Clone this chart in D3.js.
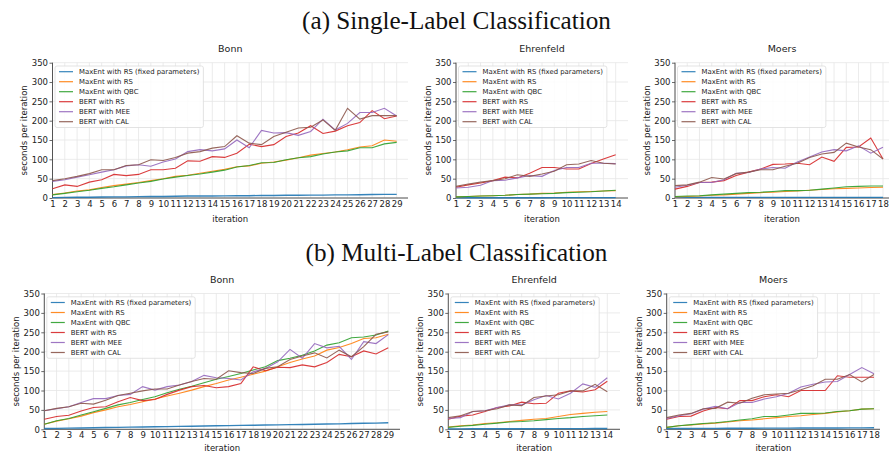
<!DOCTYPE html>
<html>
<head>
<meta charset="utf-8">
<script src="https://cdn.jsdelivr.net/npm/d3@7"></script>
<style>
  body { margin: 0; background: #fff; }
  svg { display: block; font-family: "DejaVu Sans", sans-serif; }
</style>
</head>
<body>
<svg id="chart" width="889" height="452"></svg>
<script>
// legend entries and their colours (matplotlib tab10)
var series_names = ["MaxEnt with RS (fixed parameters)", "MaxEnt with RS", "MaxEnt with QBC",
                    "BERT with RS", "BERT with MEE", "BERT with CAL"];
var series_colors = ["#1f77b4", "#ff7f0e", "#2ca02c", "#d62728", "#9467bd", "#8c564b"];
var y_ticks = [0, 50, 100, 150, 200, 250, 300, 350];

// ---- (a) single-label, Bonn (29 iterations)
var sl_bonn_fixed = [1,1.5,2,2,2.5,3,3,3.5,4,4,4.5,5,5,5,5.5,6,6,6.5,6.5,7,7,7.5,7.5,8,8,8.5,9,9.5,9.5];
var sl_bonn_rs    = [9,13,18,21,27,32,36,40,45,50,56,59,64,69,74,81,83,90,93,98,104,111,115,119,125,132,135,150,147];
var sl_bonn_qbc   = [8,12,16,20,25,29,34,39,43,49,54,58,62,67,72,80,84,91,92,99,104,107,114,119,122,130,130,140,144];
var sl_bonn_bert_rs  = [24,34,30,41,47,61,58,61,73,73,77,96,95,107,105,116,139,133,138,159,168,187,167,173,187,195,226,205,212];
var sl_bonn_bert_mee = [43,47,54,60,67,73,83,86,82,93,101,120,125,122,127,150,130,175,168,169,162,172,204,176,193,221,221,232,212];
var sl_bonn_bert_cal = [45,50,56,63,73,73,84,86,99,97,105,116,120,129,133,161,142,138,159,170,181,183,202,175,232,204,213,213,213];

// ---- (a) single-label, Ehrenfeld (14 iterations)
var sl_ehr_fixed = [0.5,0.5,0.6,0.6,0.7,0.7,0.8,0.8,0.9,0.9,1,1,1,1];
var sl_ehr_rs    = [3,4,5,6,7,9,10,12,13,15,16,17,18,19];
var sl_ehr_qbc   = [3,4,5,6,7,9,10,11,12,14,15,16,18,20];
var sl_ehr_bert_rs  = [28,34,39,45,54,52,64,79,79,75,75,89,101,112];
var sl_ehr_bert_mee = [26,28,33,45,46,52,58,56,71,79,79,90,90,89];
var sl_ehr_bert_cal = [30,36,41,45,50,60,56,62,69,86,88,97,90,88];

// ---- (a) single-label, Moers (18 iterations)
var sl_moers_fixed = [1.5,1.5,1.5,1.5,1.5,1.5,1.5,1.5,1.5,1.5,1.5,1.5,1.5,1.5,1.5,1.5,1.5,1.5];
var sl_moers_rs    = [3,4,5,7,8,10,12,14,15,17,18,20,22,24,25,26,27,28];
var sl_moers_qbc   = [4,5,6,8,10,12,14,15,17,19,19,20,23,26,29,30,31,31];
var sl_moers_bert_rs  = [23,30,40,41,45,58,67,75,87,88,90,86,106,95,131,132,155,101];
var sl_moers_bert_mee = [28,33,40,40,47,64,66,75,79,77,93,106,119,125,122,135,116,131];
var sl_moers_bert_cal = [32,34,41,53,49,63,67,73,73,82,90,105,114,118,142,132,125,101];

// ---- (b) multi-label, Bonn (29 iterations)
var ml_bonn_fixed = [2,2.5,3,3.5,4,4.5,5,5.5,6,6.5,7,7.5,8,8.5,9,9.5,10,10.5,11,11.5,12,12.5,13,13.5,14,15,15.5,16,17];
var ml_bonn_rs    = [13,21,27,34,43,50,58,64,71,78,86,93,101,110,118,127,134,142,150,161,172,181,189,204,211,221,234,236,245];
var ml_bonn_qbc   = [13,22,28,37,45,54,63,69,77,84,94,103,111,120,129,136,144,153,161,177,183,191,202,217,223,236,238,243,253];
var ml_bonn_bert_rs  = [26,33,36,47,56,58,71,82,74,77,90,101,110,113,107,110,118,161,151,160,159,166,161,172,193,187,202,194,210];
var ml_bonn_bert_mee = [48,53,58,69,79,79,87,90,110,101,110,114,123,139,133,131,127,148,157,174,206,183,221,210,214,180,226,221,244];
var ml_bonn_bert_cal = [48,54,58,67,65,75,87,93,99,104,104,114,123,131,129,151,146,144,157,161,180,189,197,184,204,187,213,245,251];

// ---- (b) multi-label, Ehrenfeld (14 iterations)
var ml_ehr_fixed = [1,1.2,1.3,1.4,1.5,1.5,1.6,1.6,1.7,1.7,1.8,1.8,1.9,2];
var ml_ehr_rs    = [6,9,11,15,17,20,23,26,28,33,38,41,44,46];
var ml_ehr_qbc   = [5,8,10,13,16,19,20,22,25,28,30,33,35,37];
var ml_ehr_bert_rs  = [26,34,37,46,56,60,70,66,67,93,99,96,102,124];
var ml_ehr_bert_mee = [28,30,46,48,56,63,63,76,87,78,93,117,108,133];
var ml_ehr_bert_cal = [30,35,46,48,53,63,61,82,86,89,99,99,116,97];

// ---- (b) multi-label, Moers (18 iterations)
var ml_moers_fixed = [2,2,2.2,2.3,2.5,2.6,2.7,2.8,3,3,3.1,3.2,3.3,3.4,3.5,3.6,3.8,4];
var ml_moers_rs    = [5,9,11,14,16,19,22,24,27,30,33,35,38,41,45,48,52,53];
var ml_moers_qbc   = [5,9,12,15,17,20,24,27,33,33,37,41,41,42,46,48,52,53];
var ml_moers_bert_rs  = [26,33,34,47,56,53,74,74,84,89,84,100,100,100,138,134,134,134];
var ml_moers_bert_mee = [28,35,40,52,59,53,69,69,78,84,93,109,116,122,123,141,159,143];
var ml_moers_bert_cal = [30,37,41,53,54,70,67,80,89,91,93,102,112,129,129,141,122,141];

// panel table: data + where each axes box sits on the page
var panels = [
  {title: "Bonn",      series: [sl_bonn_fixed, sl_bonn_rs, sl_bonn_qbc, sl_bonn_bert_rs, sl_bonn_bert_mee, sl_bonn_bert_cal],
   x0: 52.5, xLast: 396.7, x1: 408, yTop: 62.7, yBot: 198, xlab: 222},
  {title: "Ehrenfeld", series: [sl_ehr_fixed, sl_ehr_rs, sl_ehr_qbc, sl_ehr_bert_rs, sl_ehr_bert_mee, sl_ehr_bert_cal],
   x0: 456, xLast: 615.7, x1: 628, yTop: 62.7, yBot: 198, xlab: 222},
  {title: "Moers",     series: [sl_moers_fixed, sl_moers_rs, sl_moers_qbc, sl_moers_bert_rs, sl_moers_bert_mee, sl_moers_bert_cal],
   x0: 675, xLast: 883, x1: 889, yTop: 62.7, yBot: 198, xlab: 222},
  {title: "Bonn",      series: [ml_bonn_fixed, ml_bonn_rs, ml_bonn_qbc, ml_bonn_bert_rs, ml_bonn_bert_mee, ml_bonn_bert_cal],
   x0: 44.3, xLast: 388.3, x1: 400, yTop: 293.5, yBot: 429.3, xlab: 451},
  {title: "Ehrenfeld", series: [ml_ehr_fixed, ml_ehr_rs, ml_ehr_qbc, ml_ehr_bert_rs, ml_ehr_bert_mee, ml_ehr_bert_cal],
   x0: 448.3, xLast: 607.3, x1: 620, yTop: 293.5, yBot: 429.3, xlab: 451},
  {title: "Moers",     series: [ml_moers_fixed, ml_moers_rs, ml_moers_qbc, ml_moers_bert_rs, ml_moers_bert_mee, ml_moers_bert_cal],
   x0: 666.7, xLast: 874, x1: 880, yTop: 293.5, yBot: 429.3, xlab: 451}
];

var svg = d3.select("#chart");

function draw_panel(p) {
  var g = svg.append("g");
  var n = p.series[0].length;
  var iters = d3.range(1, n + 1);

  var x = d3.scaleLinear().domain([1, n]).range([p.x0, p.xLast]);
  var y = d3.scaleLinear().domain([0, 350]).range([p.yBot, p.yTop]);

  // grid
  g.selectAll(".hgrid").data(y_ticks).enter().append("line")
    .attr("x1", p.x0).attr("x2", p.x1)
    .attr("y1", function(d) { return y(d); }).attr("y2", function(d) { return y(d); })
    .attr("stroke", "#e6e6e6").attr("stroke-width", 0.8);
  g.selectAll(".vgrid").data(iters).enter().append("line")
    .attr("x1", function(d) { return x(d); }).attr("x2", function(d) { return x(d); })
    .attr("y1", p.yBot).attr("y2", p.yTop)
    .attr("stroke", "#e6e6e6").attr("stroke-width", 0.8);

  // axes
  var yAxis = d3.axisLeft(y).tickValues(y_ticks).tickSize(3).tickPadding(1.5);
  var ya = g.append("g").attr("transform", "translate(" + p.x0 + ",0)").call(yAxis);
  var xAxis = d3.axisBottom(x).tickValues(iters).tickSize(0).tickPadding(2.7);
  var xa = g.append("g").attr("transform", "translate(0," + p.yBot + ")").call(xAxis);
  [ya, xa].forEach(function(a) {
    a.select(".domain").remove();
    a.selectAll("text").attr("font-size", 8.5).attr("fill", "#222").attr("font-family", "DejaVu Sans");
    a.selectAll("line").attr("stroke", "#444").attr("stroke-width", 0.8);
  });
  g.append("line").attr("x1", p.x0).attr("x2", p.x0).attr("y1", p.yTop).attr("y2", p.yBot)
    .attr("stroke", "#444").attr("stroke-width", 0.9);
  g.append("line").attr("x1", p.x0).attr("x2", p.x1).attr("y1", p.yBot).attr("y2", p.yBot)
    .attr("stroke", "#444").attr("stroke-width", 0.9);

  // lines
  var line = d3.line()
    .x(function(d, i) { return x(i + 1); })
    .y(function(d) { return y(d); });
  p.series.forEach(function(s, k) {
    g.append("path").datum(s)
      .attr("d", line)
      .attr("fill", "none")
      .attr("stroke", series_colors[k])
      .attr("stroke-width", k == 0 ? 1.4 : 1.1)
      .attr("stroke-opacity", 0.9);
  });

  // labels
  var cx = (p.x0 + p.x1) / 2;
  g.append("text").attr("x", cx).attr("y", p.yTop - 10.7)
    .attr("text-anchor", "middle").attr("font-size", 9.5).attr("fill", "#222").text(p.title);
  g.append("text").attr("x", cx).attr("y", p.xlab)
    .attr("text-anchor", "middle").attr("font-size", 8.5).attr("fill", "#222").text("iteration");
  g.append("text")
    .attr("transform", "translate(" + (p.x0 - 28) + "," + ((p.yTop + p.yBot) / 2) + ") rotate(-90)")
    .attr("dy", "0.35em")
    .attr("text-anchor", "middle").attr("font-size", 8.5).attr("fill", "#222").text("seconds per iteration");

  // legend
  var lg = g.append("g").attr("transform", "translate(" + (p.x0 + 2.5) + "," + (p.yTop + 3.3) + ")");
  var box = lg.append("rect").attr("rx", 2).attr("ry", 2)
    .attr("fill", "#fff").attr("fill-opacity", 0.85)
    .attr("stroke", "#dcdcdc").attr("stroke-width", 0.8);
  var maxw = 0;
  series_names.forEach(function(name, k) {
    var yy = 5.7 + k * 10;
    lg.append("line").attr("x1", 4).attr("x2", 18).attr("y1", yy).attr("y2", yy)
      .attr("stroke", series_colors[k]).attr("stroke-width", 1.2).attr("stroke-opacity", 0.9);
    var t = lg.append("text").attr("x", 24).attr("y", yy).attr("dy", "0.35em")
      .attr("font-size", 6.9).attr("fill", "#222").text(name);
    maxw = Math.max(maxw, t.node().getComputedTextLength());
  });
  box.attr("width", 24 + maxw + 4).attr("height", 61.5);
}

panels.forEach(draw_panel);

// figure titles, serif like the LaTeX captions
var sup_a = svg.append("text").attr("x", 456.5).attr("y", 29.3).attr("text-anchor", "middle")
  .attr("font-family", "Liberation Serif").attr("font-size", 22).attr("fill", "#111")
  .text("(a) Single-Label Classification");
var fs = 22 * 309 / sup_a.node().getComputedTextLength();
sup_a.attr("font-size", fs);
svg.append("text").attr("x", 456.5).attr("y", 261).attr("text-anchor", "middle")
  .attr("font-family", "Liberation Serif").attr("font-size", fs).attr("fill", "#111")
  .text("(b) Multi-Label Classification");
</script>
</body>
</html>
